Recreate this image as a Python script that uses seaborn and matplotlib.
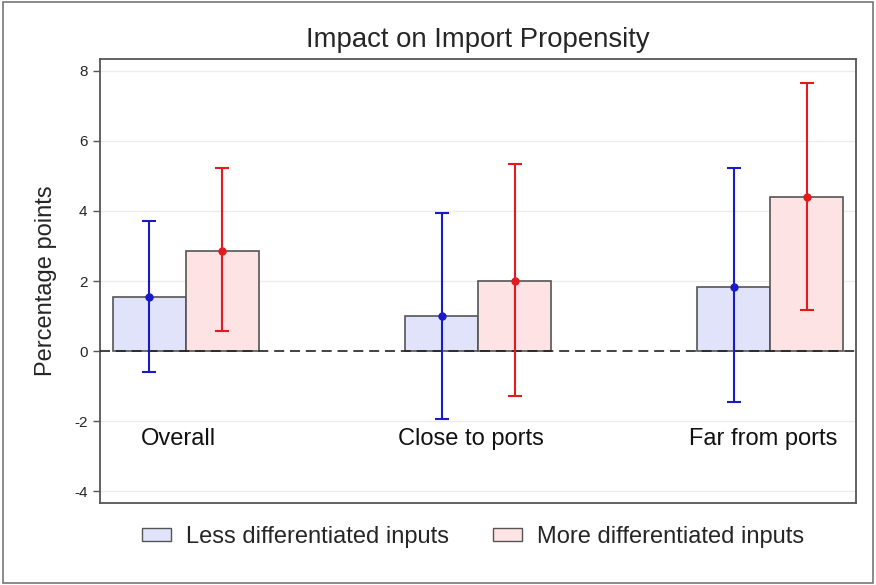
import matplotlib
matplotlib.use("Agg")
import matplotlib.pyplot as plt
from matplotlib.patches import Rectangle, Patch
import pandas as pd
import seaborn as sns

groups = ["Overall", "Close to ports", "Far from ports"]
series = ["Less differentiated inputs", "More differentiated inputs"]
less_est = [1.54, 1.00, 1.84]
less_lo = [-0.60, -1.94, -1.47]
less_hi = [3.71, 3.94, 5.22]
more_est = [2.86, 2.00, 4.41]
more_lo = [0.57, -1.29, 1.18]
more_hi = [5.23, 5.34, 7.65]
yticks = [-4, -2, 0, 2, 4, 6, 8]

fills = ["#e1e3fb", "#fde3e4"]
lines = ["#1a1acc", "#e41a1c"]

df = pd.DataFrame({
    "group": groups * 2,
    "series": [series[0]] * 3 + [series[1]] * 3,
    "value": less_est + more_est,
})

sns.set_style("white")
plt.rcParams["font.family"] = ["Liberation Sans", "DejaVu Sans"]

fig = plt.figure(figsize=(8.76, 5.85), dpi=100)
ax = fig.add_axes([0.1142, 0.1402, 0.8630, 0.7589])

sns.barplot(data=df, x="group", y="value", hue="series", order=groups,
            hue_order=series, palette=fills, saturation=1, width=0.5, gap=0,
            edgecolor="#555555", linewidth=1.2, errorbar=None,
            legend=False, ax=ax, zorder=2)

# confidence intervals with point estimates
offsets = [-0.125, 0.125]
for k, (est, lo, hi) in enumerate([(less_est, less_lo, less_hi),
                                   (more_est, more_lo, more_hi)]):
    xs = [i + offsets[k] for i in range(len(groups))]
    yerr = [[e - l for e, l in zip(est, lo)], [h - e for e, h in zip(est, hi)]]
    ax.errorbar(xs, est, yerr=yerr, fmt="o", color=lines[k], ms=5,
                elinewidth=1.5, capsize=5, capthick=1.5, zorder=4)

ax.axhline(0, color="#222222", lw=1.2, ls=(0, (6, 3.5)), zorder=3)
for t in yticks:
    if t != 0:
        ax.axhline(t, color="#ececec", lw=1.0, zorder=0)

for i, g in enumerate(groups):
    ax.text(i - 0.025, -2.5, g, ha="center", va="center", fontsize=17, color="#111111")

ax.set_xlim(-0.294, 2.294)
ax.set_ylim(-4.34, 8.34)
ax.set_yticks(yticks)
ax.set_yticklabels([str(t) for t in yticks], fontsize=11)
ax.set_xticks([])
ax.set_xlabel("")
ax.set_ylabel("Percentage points", fontsize=17, labelpad=12)
ax.tick_params(axis="y", left=True, length=5, width=1, color="#555555", pad=4)
for s in ax.spines.values():
    s.set_color("#555555")
    s.set_linewidth(1.3)

ax.set_title("Impact on Import Propensity", fontsize=19.8, pad=9)

handles = [Patch(facecolor=fills[k], edgecolor="#555555", lw=1.0, label=series[k])
           for k in range(2)]
fig.legend(handles=handles, loc="center", bbox_to_anchor=(0.540, 0.082), ncol=2,
           frameon=False, fontsize=17, handlelength=1.23, handleheight=0.47,
           columnspacing=1.9, handletextpad=0.6)

fig.patches.append(Rectangle((0.003, 0.003), 0.994, 0.994, transform=fig.transFigure,
                             fill=False, edgecolor="#777777", lw=1.2))

fig.savefig("out.png", dpi=100, facecolor="white")
